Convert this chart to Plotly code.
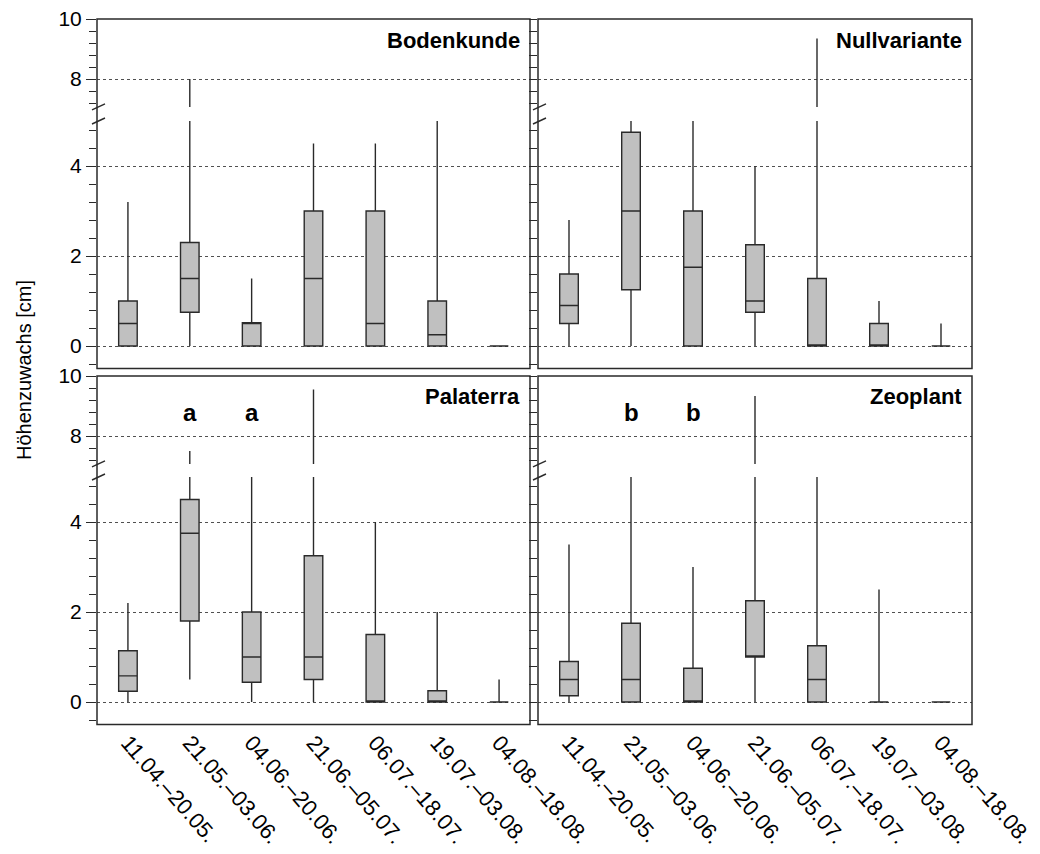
import plotly.graph_objects as go

# ---------------- data ----------------
categories = ["11.04.–20.05.", "21.05.–03.06.", "04.06.–20.06.", "21.06.–05.07.",
              "06.07.–18.07.", "19.07.–03.08.", "04.08.–18.08."]

panel_names = ["Bodenkunde", "Nullvariante", "Palaterra", "Zeoplant"]

bodenkunde_lf = [0, 0, 0, 0, 0, 0, 0]
bodenkunde_q1 = [0, 0.75, 0, 0, 0, 0, 0]
bodenkunde_med = [0.5, 1.5, 0.5, 1.5, 0.5, 0.25, 0]
bodenkunde_q3 = [1.0, 2.3, 0.52, 3.0, 3.0, 1.0, 0]
bodenkunde_uf = [3.2, 8.0, 1.5, 4.5, 4.5, 5.0, 0]

nullvariante_lf = [0, 0, 0, 0, 0, 0, 0]
nullvariante_q1 = [0.5, 1.25, 0, 0.75, 0, 0, 0]
nullvariante_med = [0.9, 3.0, 1.75, 1.0, 0, 0, 0]
nullvariante_q3 = [1.6, 4.75, 3.0, 2.25, 1.5, 0.5, 0]
nullvariante_uf = [2.8, 5.0, 5.0, 4.0, 9.35, 1.0, 0.5]

palaterra_lf = [0, 0.5, 0, 0, 0, 0, 0]
palaterra_q1 = [0.24, 1.8, 0.44, 0.5, 0, 0, 0]
palaterra_med = [0.58, 3.75, 1.0, 1.0, 0, 0, 0]
palaterra_q3 = [1.14, 4.5, 2.0, 3.25, 1.5, 0.25, 0]
palaterra_uf = [2.2, 7.5, 5.0, 9.55, 4.0, 2.0, 0.5]

zeoplant_lf = [0, 0, 0, 0, 0, 0, 0]
zeoplant_q1 = [0.14, 0, 0, 1.0, 0, 0, 0]
zeoplant_med = [0.5, 0.5, 0, 1.0, 0.5, 0, 0]
zeoplant_q3 = [0.9, 1.75, 0.75, 2.25, 1.25, 0, 0]
zeoplant_uf = [3.5, 5.0, 3.0, 9.33, 5.0, 2.5, 0]

letters_palaterra = ["a", "a"]
letters_zeoplant = ["b", "b"]
letter_categories = [categories[1], categories[2]]

lower_ticks = [0, 2, 4]
upper_ticks = [8, 10]

panels = [
    (bodenkunde_lf, bodenkunde_q1, bodenkunde_med, bodenkunde_q3, bodenkunde_uf),
    (nullvariante_lf, nullvariante_q1, nullvariante_med, nullvariante_q3, nullvariante_uf),
    (palaterra_lf, palaterra_q1, palaterra_med, palaterra_q3, palaterra_uf),
    (zeoplant_lf, zeoplant_q1, zeoplant_med, zeoplant_q3, zeoplant_uf),
]

# ---------------- geometry (pixels) ----------------
W, H = 1040, 854
FONT = "Liberation Sans, Arial, sans-serif"
cols = [(97, 530), (538, 972)]
rows_T = [19, 376]      # pixel of value 10
rows_Z = [346, 702]     # pixel of value 0
PX_LOW = 45.0           # px per unit lower segment
PX_UP = 30.0            # px per unit upper segment
LOW_RANGE = [-0.5, 5.0]
UP_RANGE = [7.07, 10.0]


def py(p):
    return 1 - p / H


def px(p):
    return p / W


def axid(n):
    return "" if n == 1 else str(n)


fig = go.Figure()
layout = dict(
    width=W, height=H, autosize=False,
    margin=dict(l=0, r=0, t=0, b=0, autoexpand=False),
    paper_bgcolor="white", plot_bgcolor="white",
    font=dict(family=FONT, color="black"),
    showlegend=False,
)
shapes = []
annotations = []
LINEC = "#2a2a2a"

minor_low = [round(-0.4 + 0.4 * k, 1) for k in range(0, 15)]
minor_up = [round(7.2 + 0.4 * k, 1) for k in range(0, 8)]

for p, (lf, q1, med, q3, uf) in enumerate(panels):
    col, row = p % 2, p // 2
    xl, xr = cols[col]
    T, Z = rows_T[row], rows_Z[row]
    up_bottom = T + (UP_RANGE[1] - UP_RANGE[0]) * PX_UP
    low_top = Z - LOW_RANGE[1] * PX_LOW
    low_bottom = Z - LOW_RANGE[0] * PX_LOW

    xid = p + 1
    ylo = 2 * p + 1
    yup = 2 * p + 2
    layout["xaxis" + axid(xid)] = dict(
        domain=[px(xl), px(xr)], anchor="y" + axid(ylo), type="category",
        categoryorder="array", categoryarray=categories, automargin=False,
        range=[-0.5, 6.5], showline=False, ticks="", showgrid=False,
        zeroline=False, showticklabels=(row == 1), tickangle=49,
        tickfont=dict(size=22, family=FONT, color="black"), fixedrange=True,
    )
    tl_major = 10 if col == 0 else 8
    tl_minor = 7 if col == 0 else 8
    common = dict(
        anchor="x" + axid(xid), showline=False, zeroline=False, automargin=False,
        ticks="outside", tickcolor=LINEC, tickwidth=1.4,
        ticklen=tl_major, showgrid=True, gridcolor="#505050",
        griddash="dot", gridwidth=1, showticklabels=(col == 0),
        tickfont=dict(size=21, family=FONT, color="black"),
        tickmode="array", fixedrange=True,
    )
    layout["yaxis" + axid(ylo)] = dict(
        common, domain=[py(low_bottom), py(low_top)], range=LOW_RANGE,
        tickvals=lower_ticks,
        minor=dict(tickmode="array", tickvals=minor_low, ticks="outside",
                   ticklen=tl_minor, tickcolor=LINEC, tickwidth=1.4, showgrid=False),
    )
    layout["yaxis" + axid(yup)] = dict(
        common, domain=[py(up_bottom), py(T)], range=UP_RANGE,
        tickvals=upper_ticks,
        minor=dict(tickmode="array", tickvals=minor_up, ticks="outside",
                   ticklen=tl_minor, tickcolor=LINEC, tickwidth=1.4, showgrid=False),
    )

    for yid in (ylo, yup):
        fig.add_trace(go.Box(
            x=categories, lowerfence=lf, q1=q1, median=med, q3=q3, upperfence=uf,
            xaxis="x" + axid(xid), yaxis="y" + axid(yid),
            fillcolor="#c0c0c0", line=dict(color=LINEC, width=1.4),
            width=0.3, whiskerwidth=0, boxpoints=False, hoverinfo="skip",
            showlegend=False,
        ))

    # panel frame
    shapes.append(dict(type="rect", xref="paper", yref="paper",
                       x0=px(xl), x1=px(xr), y0=py(low_bottom), y1=py(T),
                       line=dict(color=LINEC, width=1.5), layer="above"))
    # axis-break marks on the left edge
    for yb in (up_bottom, low_top):
        shapes.append(dict(type="line", xref="paper", yref="paper",
                           x0=px(xl - 5), y0=py(yb + 3), x1=px(xl + 8), y1=py(yb - 3),
                           line=dict(color=LINEC, width=1.4), layer="above"))

    # panel title
    annotations.append(dict(
        text=f"<b>{panel_names[p]}</b>", xref="x" + axid(xid) + " domain", yref="paper",
        x=1, y=py(T + 21), xanchor="right", yanchor="middle", xshift=-8,
        showarrow=False, font=dict(size=22, family=FONT, color="black"),
    ))

# significance letters
for cat, txt in zip(letter_categories, letters_palaterra):
    annotations.append(dict(text=f"<b>{txt}</b>", xref="x3", yref="y6", x=cat, y=8.8,
                            showarrow=False, font=dict(size=24, family=FONT, color="black")))
for cat, txt in zip(letter_categories, letters_zeoplant):
    annotations.append(dict(text=f"<b>{txt}</b>", xref="x4", yref="y8", x=cat, y=8.8,
                            showarrow=False, font=dict(size=24, family=FONT, color="black")))

# y-axis title
annotations.append(dict(text="Höhenzuwachs [cm]", xref="paper", yref="paper",
                        x=px(24), y=py(370), textangle=-90, showarrow=False,
                        xanchor="center", yanchor="middle",
                        font=dict(size=20, family=FONT, color="black")))

layout["shapes"] = shapes
layout["annotations"] = annotations
fig.update_layout(**layout)
fig.write_html("out.html")
